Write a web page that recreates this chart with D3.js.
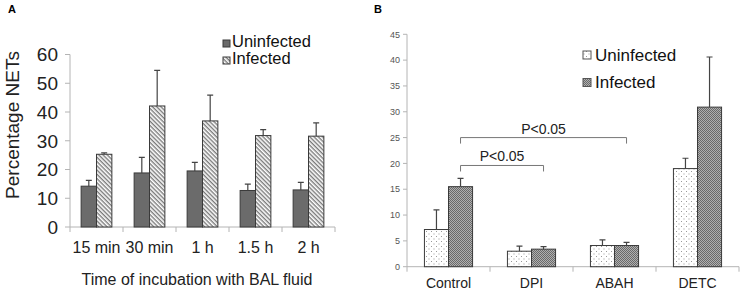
<!DOCTYPE html>
<html>
<head>
<meta charset="utf-8">
<script src="https://cdn.jsdelivr.net/npm/d3@7"></script>
<style>
  body { margin: 0; background: #fff; }
  svg { display: block; font-family: "Liberation Sans", Arial, sans-serif; }
</style>
</head>
<body>
<svg id="chart" width="744" height="294"></svg>
<script>
// panel A data
const timesA = ["15 min", "30 min", "1 h", "1.5 h", "2 h"];
const uninfectedA = [14.2, 18.8, 19.5, 12.7, 12.9];
const uninfectedErrA = [2.0, 5.4, 3.0, 2.2, 2.6];
const infectedA = [25.3, 42.1, 36.9, 31.8, 31.6];
const infectedErrA = [0.5, 12.4, 9.0, 2.1, 4.6];
const ticksA = [0, 10, 20, 30, 40, 50, 60];

// panel B data
const groupsB = ["Control", "DPI", "ABAH", "DETC"];
const uninfectedB = [7.2, 3.0, 4.1, 19.0];
const uninfectedErrB = [3.8, 1.0, 1.1, 2.0];
const infectedB = [15.5, 3.4, 4.1, 30.9];
const infectedErrB = [1.6, 0.5, 0.6, 9.7];
const ticksB = [0, 5, 10, 15, 20, 25, 30, 35, 40, 45];

const series = ["Uninfected", "Infected"];

const svg = d3.select("#chart");
const defs = svg.append("defs");

// patterns
const hatch = defs.append("pattern").attr("id", "hatch")
  .attr("patternUnits", "userSpaceOnUse").attr("width", 3).attr("height", 3)
  .attr("patternTransform", "rotate(45)");
hatch.append("rect").attr("width", 3).attr("height", 3).attr("fill", "#fff");
hatch.append("rect").attr("width", 3).attr("height", 1.4).attr("fill", "#7a7a7a");

const dots = defs.append("pattern").attr("id", "dots")
  .attr("patternUnits", "userSpaceOnUse").attr("width", 5).attr("height", 5);
dots.append("rect").attr("width", 5).attr("height", 5).attr("fill", "#fff");
dots.append("rect").attr("x", 1).attr("y", 1).attr("width", 1).attr("height", 1).attr("fill", "#999");
dots.append("rect").attr("x", 3.5).attr("y", 3.5).attr("width", 1).attr("height", 1).attr("fill", "#999");

const dense = defs.append("pattern").attr("id", "dense")
  .attr("patternUnits", "userSpaceOnUse").attr("width", 2).attr("height", 2);
dense.append("rect").attr("width", 2).attr("height", 2).attr("fill", "#b0b0b0");
dense.append("rect").attr("width", 1).attr("height", 1).attr("fill", "#6a6a6a");
dense.append("rect").attr("x", 1).attr("y", 1).attr("width", 1).attr("height", 1).attr("fill", "#6a6a6a");

const axisColor = "#b4b4b4";

//* generic bar panel
function drawPanel(opts) {
  const { cats, vals, errs, fills, xRange, yScale, yTicks } = opts;
  const g = svg.append("g");

  const x = d3.scaleBand().domain(cats).range(xRange).padding(0);
  const xs = d3.scaleBand().domain(series)
    .range([x.bandwidth() * 0.21, x.bandwidth() * 0.79]);

  // y axis
  g.append("line").attr("x1", xRange[0]).attr("x2", xRange[0])
    .attr("y1", yScale.range()[0]).attr("y2", yScale.range()[1])
    .attr("stroke", axisColor);
  g.selectAll(".ytick").data(yTicks).join("line")
    .attr("x1", xRange[0] - opts.yTickLen).attr("x2", xRange[0])
    .attr("y1", d => yScale(d)).attr("y2", d => yScale(d))
    .attr("stroke", axisColor);
  g.selectAll(".ylab").data(yTicks).join("text")
    .attr("x", xRange[0] - opts.yLabelGap)
    .attr("y", d => yScale(d))
    .attr("dy", "0.36em")
    .attr("text-anchor", "end")
    .attr("font-size", opts.yFont)
    .attr("fill", opts.yColor)
    .text(d => d);

  // x axis with ticks at category boundaries
  const y0 = yScale(0);
  g.append("line").attr("x1", xRange[0]).attr("x2", xRange[1])
    .attr("y1", y0).attr("y2", y0).attr("stroke", axisColor);
  const bounds = cats.map(c => x(c)).concat([xRange[1]]);
  g.selectAll(".xtick").data(bounds).join("line")
    .attr("x1", d => d).attr("x2", d => d)
    .attr("y1", y0).attr("y2", y0 + 5).attr("stroke", axisColor);
  g.selectAll(".xlab").data(cats).join("text")
    .attr("x", d => x(d) + x.bandwidth() / 2)
    .attr("y", opts.xLabelY)
    .attr("text-anchor", "middle")
    .attr("font-size", opts.xFont)
    .attr("fill", "#222")
    .text(d => d);

  // bars
  series.forEach((s, si) => {
    const gs = g.append("g");
    gs.selectAll("rect").data(cats).join("rect")
      .attr("x", d => x(d) + xs(s))
      .attr("y", (d, i) => yScale(vals[si][i]))
      .attr("width", xs.bandwidth())
      .attr("height", (d, i) => y0 - yScale(vals[si][i]))
      .attr("fill", fills[si])
      .attr("stroke", "#3a3a3a")
      .attr("stroke-width", 1);
    // error bars (upper only)
    gs.selectAll(".err").data(cats).join("path")
      .attr("d", (d, i) => {
        const cx = x(d) + xs(s) + xs.bandwidth() / 2;
        const top = yScale(vals[si][i] + errs[si][i]);
        const bot = yScale(vals[si][i]);
        return `M${cx},${bot}V${top}M${cx - 3},${top}H${cx + 3}`;
      })
      .attr("stroke", "#444").attr("fill", "none").attr("stroke-width", 1.2);
  });

  return { g, x, xs };
}

//* Panel A
const yA = d3.scaleLinear().domain([0, 60]).range([227, 54.5]);
drawPanel({
  cats: timesA,
  vals: [uninfectedA, infectedA],
  errs: [uninfectedErrA, infectedErrA],
  fills: ["#6b6b6b", "url(#hatch)"],
  xRange: [70, 335],
  yScale: yA,
  yTicks: ticksA,
  yTickLen: 5,
  yLabelGap: 12,
  yFont: 19,
  yColor: "#222",
  xLabelY: 253,
  xFont: 16
});

svg.append("text").attr("x", 8).attr("y", 13)
  .attr("font-size", 11).attr("font-weight", "bold").text("A");

svg.append("text")
  .attr("transform", "translate(19,125) rotate(-90)")
  .attr("text-anchor", "middle")
  .attr("font-size", 19).attr("fill", "#222")
  .text("Percentage NETs");

svg.append("text").attr("x", 197).attr("y", 285)
  .attr("text-anchor", "middle").attr("font-size", 16).attr("fill", "#222")
  .text("Time of incubation with BAL fluid");

// legend A
const legA = svg.append("g");
series.forEach((s, i) => {
  legA.append("rect").attr("x", 223).attr("y", 40 + i * 17)
    .attr("width", 7).attr("height", 7)
    .attr("fill", i === 0 ? "#6b6b6b" : "url(#hatch)")
    .attr("stroke", "#3a3a3a");
  legA.append("text").attr("x", 232).attr("y", 47 + i * 17)
    .attr("font-size", 16.5).attr("fill", "#111").text(s);
});

//* Panel B
const yB = d3.scaleLinear().domain([0, 45]).range([266.7, 34.3]);
const pB = drawPanel({
  cats: groupsB,
  vals: [uninfectedB, infectedB],
  errs: [uninfectedErrB, infectedErrB],
  fills: ["url(#dots)", "url(#dense)"],
  xRange: [407, 739],
  yScale: yB,
  yTicks: ticksB,
  yTickLen: 4,
  yLabelGap: 7,
  yFont: 9,
  yColor: "#555",
  xLabelY: 288,
  xFont: 14
});

svg.append("text").attr("x", 374).attr("y", 13)
  .attr("font-size", 11).attr("font-weight", "bold").text("B");

// legend B
const legB = svg.append("g");
series.forEach((s, i) => {
  legB.append("rect").attr("x", 583).attr("y", 51 + i * 27.5)
    .attr("width", 8).attr("height", 8)
    .attr("fill", i === 0 ? "url(#dots)" : "url(#dense)")
    .attr("stroke", "#555");
  legB.append("text").attr("x", 595).attr("y", 60.5 + i * 27.5)
    .attr("font-size", 17).attr("fill", "#111").text(s);
});

// significance brackets, between infected bars
const brackets = [
  { from: "Control", to: "DPI", level: 19.6, label: "P<0.05" },
  { from: "Control", to: "ABAH", level: 25.0, label: "P<0.05" }
];
const infCenter = c => pB.x(c) + pB.xs("Infected") + pB.xs.bandwidth() / 2;
brackets.forEach(b => {
  const x1 = infCenter(b.from), x2 = infCenter(b.to);
  const yl = yB(b.level);
  svg.append("path")
    .attr("d", `M${x1},${yl + 6}V${yl}H${x2}V${yl + 6}`)
    .attr("stroke", "#777").attr("fill", "none");
  svg.append("text").attr("x", (x1 + x2) / 2).attr("y", yl - 4)
    .attr("text-anchor", "middle").attr("font-size", 14).attr("fill", "#222")
    .text(b.label);
});
</script>
</body>
</html>
